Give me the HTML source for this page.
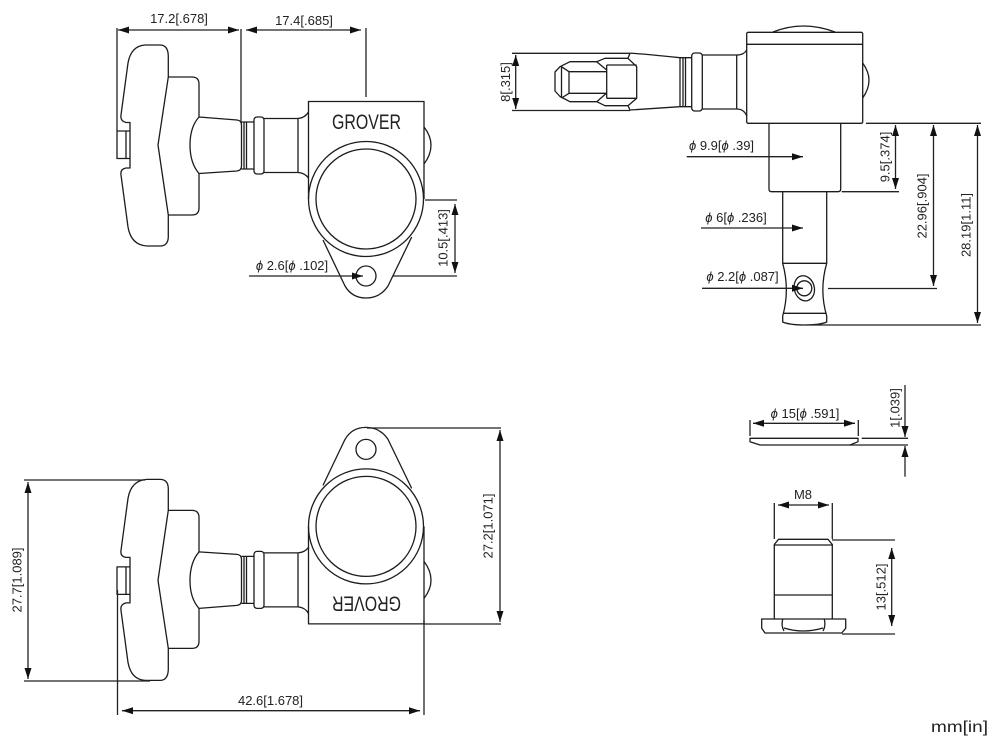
<!DOCTYPE html>
<html><head><meta charset="utf-8">
<style>
html,body{margin:0;padding:0;background:#fff}
svg{display:block}
text{font-family:"Liberation Sans",sans-serif;font-size:13px;fill:#222;text-anchor:middle}
.l{fill:none;stroke:#1c1c1c;stroke-width:1.3;stroke-linejoin:round}
.d{fill:none;stroke:#222;stroke-width:1.3}
.a{fill:none;stroke:#222;stroke-width:1.3;marker-start:url(#ar);marker-end:url(#ar)}
.e{fill:none;stroke:#222;stroke-width:1.3;marker-end:url(#ar)}
</style></head><body>
<svg width="1000" height="750" viewBox="0 0 1000 750" xmlns="http://www.w3.org/2000/svg">
<defs>
<marker id="ar" markerUnits="userSpaceOnUse" markerWidth="12" markerHeight="8" refX="11" refY="4" orient="auto-start-reverse"><path d="M0 0.500L11 4L0 7.500Z" fill="#111"/></marker>
<g id="tuner">
<!-- knob -->
<path class="l" d="M168.300 77V56Q168 45 160 45H145Q131 46 128 63L121 115Q120 121 126 122.500H130V168H126Q120 169 121 175L128 227Q131 245 147 246H160Q168 246 168.300 237V215L158 145Z"/>
<path class="l" d="M168.300 77H192Q199 77 199 84V117M199 173V208Q199 215 192 215H168.300"/>
<path class="l" d="M130 131H117V158.500H130M126 131V158.500"/>
<!-- shaft -->
<path class="l" d="M199 117L237 120Q241.500 120.500 241.500 125V166Q241.500 170.500 237 171L199 173.500Q190 163 190 145Q190 127 199 117Z"/>
<path class="l" d="M241.500 122H254M241.500 169H254M244 122V169M246.500 122V169"/>
<rect class="l" x="254" y="117" width="10" height="57" rx="3"/>
<path class="l" d="M264 118.500H298Q305 118 308.500 112M264 172.500H298Q305 173 308.500 178M298 118.500V172.500"/>
<!-- body -->
<path class="l" d="M308.500 199V101.500H424V199"/>
<path class="l" d="M424 127Q431 136 431 145Q431 155 424 164"/>
<circle class="l" cx="366" cy="199" r="57.500"/>
<circle class="l" cx="366" cy="199" r="50"/>
<path class="l" d="M323 240L345 286Q352 298 366 298Q380 298 388 286L411.700 237"/>
<circle class="l" cx="366" cy="276" r="10"/>
</g>
</defs>

<!-- top-left view -->
<use href="#tuner"/>
<text x="366.500" y="129" textLength="69" lengthAdjust="spacingAndGlyphs" style="font-size:21px">GROVER</text>
<path class="d" d="M117 28V131M241 29V122M366 28V97M425 200H457M393 276H457"/>
<line class="a" x1="118" y1="30" x2="239" y2="30"/>
<line class="a" x1="246" y1="30" x2="361" y2="30"/>
<line class="a" x1="455" y1="204" x2="455" y2="273"/>
<line class="e" x1="249" y1="276" x2="363" y2="276"/>
<text x="179" y="23">17.2[.678]</text>
<text x="304" y="25">17.4[.685]</text>
<text x="0" y="0" transform="translate(447.500,238) rotate(-90)">10.5[.413]</text>
<text x="292" y="270"><tspan font-style="italic">ϕ</tspan> 2.6[<tspan font-style="italic">ϕ</tspan> .102]</text>

<!-- top-right view -->
<path class="l" d="M773 32Q803 20 835 32"/>
<rect class="l" x="746.700" y="32.300" width="116" height="91" rx="1.500"/>
<path class="l" d="M746.700 44.300H862.700"/>
<path class="l" d="M862.700 63Q869 72 869 80Q869 89 862.700 98"/>
<path class="l" d="M769 123.300V189Q769 191.700 771.500 191.700H838Q840.700 191.700 840.700 189V123.300"/>
<path class="l" d="M782.700 191.700V263.300H826.700V191.700"/>
<path class="l" d="M782.700 263.300Q790 290 782.700 316V322Q790 325 804 325Q820 325 826.700 322V316Q819 290 826.700 263.300"/>
<path class="l" d="M783 313.300H826.500"/>
<ellipse class="l" cx="804.300" cy="288.300" rx="10" ry="12.700" transform="rotate(-15 804.300 288.300)"/>
<circle class="l" cx="804.300" cy="288.300" r="7.500"/>
<!-- head of post -->
<path class="l" d="M630 53.300Q635 53 680 57.700V106.700L630 110L628 105.700H605L596.700 101.700H570L560 96.500L555 91V72L560 66.700L570 61.700H596.700L605 58.300H628Z"/>
<path class="l" d="M628 58.300L636.700 66.700V98.300L628 105.700M606.700 65H636.700M606.700 98.300H636.700M606.700 65V98.300M606.700 70L596.700 61.700M606.700 93L596.700 101.700M569 71.700H606.700M569 93.300H606.700M569 71.700V93.300M569 71.700L561.500 66.700M569 93.300L561.500 98M561.500 66.700V98"/>
<path class="l" d="M680 57.700H691.700M680 106.700H691.700M683 57.700V106.700M685.500 57.700V106.700"/>
<rect class="l" x="691.700" y="53" width="10.600" height="58" rx="3"/>
<path class="l" d="M702.300 55H736.700Q744 55 746.700 50M702.300 109H736.700Q744 109 746.700 116M736.700 55V109"/>
<path class="d" d="M512 53.300H630M512 110.500H630M866 123.300H981M841.700 191.700H899M828 288.500H937M810 325H981"/>
<line class="a" x1="515.700" y1="55" x2="515.700" y2="109"/>
<line class="e" x1="686.700" y1="156.700" x2="803" y2="156.700"/>
<line class="e" x1="701" y1="228" x2="803" y2="228"/>
<line class="e" x1="702" y1="288.300" x2="803" y2="288.300"/>
<line class="a" x1="895.500" y1="125" x2="895.500" y2="189"/>
<line class="a" x1="933.500" y1="125" x2="933.500" y2="286"/>
<line class="a" x1="977.500" y1="125" x2="977.500" y2="323"/>
<text x="0" y="0" transform="translate(510,82) rotate(-90)">8[.315]</text>
<text x="721.500" y="150"><tspan font-style="italic">ϕ</tspan> 9.9[<tspan font-style="italic">ϕ</tspan> .39]</text>
<text x="736" y="222"><tspan font-style="italic">ϕ</tspan> 6[<tspan font-style="italic">ϕ</tspan> .236]</text>
<text x="742.500" y="281"><tspan font-style="italic">ϕ</tspan> 2.2[<tspan font-style="italic">ϕ</tspan> .087]</text>
<text x="0" y="0" transform="translate(889.500,157) rotate(-90)">9.5[.374]</text>
<text x="0" y="0" transform="translate(926.500,206) rotate(-90)">22.96[.904]</text>
<text x="0" y="0" transform="translate(970.500,225) rotate(-90)">28.19[1.11]</text>

<!-- bottom-left view -->
<use href="#tuner" transform="translate(0,725.400) scale(1,-1)"/>
<text x="0" y="0" transform="translate(366.500,596.500) rotate(180)" textLength="69" lengthAdjust="spacingAndGlyphs" style="font-size:21px">GROVER</text>
<path class="d" d="M367 428H501M424 624H501M24 480H145M24 681H150M117.500 590V715M424 620V715"/>
<line class="a" x1="500" y1="430" x2="500" y2="622"/>
<line class="a" x1="28" y1="482" x2="28" y2="679"/>
<line class="a" x1="122" y1="710.700" x2="420" y2="710.700"/>
<text x="0" y="0" transform="translate(492.500,526) rotate(-90)">27.2[1.071]</text>
<text x="0" y="0" transform="translate(21.500,580) rotate(-90)">27.7[1.089]</text>
<text x="270.500" y="705">42.6[1.678]</text>

<!-- bottom-right: washer -->
<path class="l" d="M750 438.300H858V441.700L850 445H760L750 441.700Z"/>
<path class="d" d="M750 420V436M858.300 420V436M861.700 438.300H908M850 445H908"/>
<line class="a" x1="753" y1="423.300" x2="855" y2="423.300"/>
<line class="e" x1="905" y1="385" x2="905" y2="437"/>
<line class="e" x1="905" y1="476.700" x2="905" y2="446"/>
<text x="805" y="418"><tspan font-style="italic">ϕ</tspan> 15[<tspan font-style="italic">ϕ</tspan> .591]</text>
<text x="0" y="0" transform="translate(899.500,408) rotate(-90)">1[.039]</text>

<!-- bottom-right: nut -->
<path class="l" d="M774.300 619V544.500L778.500 539.300H828L832.300 544.500V619"/>
<path class="l" d="M774.300 545H832.300M774.300 595H832.300"/>
<path class="l" d="M761.700 619H845.700V628.300L841.700 633H765L761.700 628.300Z"/>
<path class="l" d="M782.700 619Q781 626 784 631M824.300 619Q826 626 823 631M784 628Q803 634 823 628"/>
<path class="d" d="M774.300 503V539M832.300 503V539M832 540H895M842 634H895"/>
<line class="a" x1="778" y1="505" x2="829" y2="505"/>
<line class="a" x1="891.700" y1="548" x2="891.700" y2="626"/>
<text x="803" y="499">M8</text>
<text x="0" y="0" transform="translate(885.500,587) rotate(-90)">13[.512]</text>

<text x="959.500" y="732" textLength="57" lengthAdjust="spacingAndGlyphs" style="font-size:16px">mm[in]</text>
</svg>
</body></html>
